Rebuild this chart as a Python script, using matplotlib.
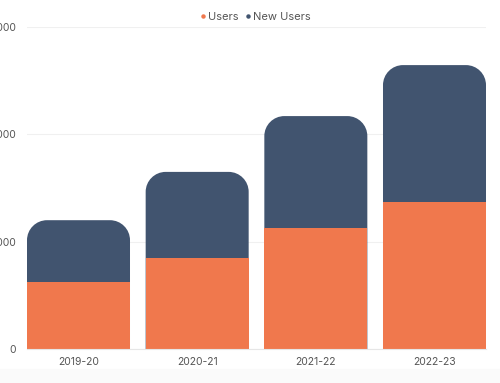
import matplotlib
matplotlib.use('Agg')
import matplotlib.pyplot as plt
from matplotlib.patches import PathPatch, Rectangle
from matplotlib.path import Path
from matplotlib.lines import Line2D

# data
years = ['2019-20', '2020-21', '2021-22', '2022-23']
users = [620, 850, 1130, 1365]
new_users = [580, 800, 1040, 1280]
y_ticks = [0, 1000, 2000, 3000]

orange = '#F0784D'
navy = '#41546F'
text_c = '#555555'

plt.rcParams['font.family'] = ['Inter', 'DejaVu Sans']

fig = plt.figure(figsize=(5, 3.83), dpi=100)
# faint grey band at the very bottom like the screenshot
fig.patches.append(Rectangle((0, 0), 1, 14 / 383, transform=fig.transFigure,
                             color='#fafafa', zorder=0))
ax = fig.add_axes([27 / 500, 1 - 349 / 383, 459 / 500, 322 / 383])
ax.set_facecolor('none')

x = range(len(years))
width = 0.868
totals = [u + n for u, n in zip(users, new_users)]

ax.set_xlim(-0.434, 3.434)
ax.set_ylim(0, 3000)


def top_rounded(bx, by, bw, bh, rx, ry):
    k = 0.5523
    verts = [(bx, by), (bx, by + bh - ry),
             (bx, by + bh - ry + k * ry), (bx + rx - k * rx, by + bh), (bx + rx, by + bh),
             (bx + bw - rx, by + bh),
             (bx + bw - rx + k * rx, by + bh), (bx + bw, by + bh - ry + k * ry), (bx + bw, by + bh - ry),
             (bx + bw, by), (bx, by)]
    codes = [Path.MOVETO, Path.LINETO,
             Path.CURVE4, Path.CURVE4, Path.CURVE4,
             Path.LINETO,
             Path.CURVE4, Path.CURVE4, Path.CURVE4,
             Path.LINETO, Path.CLOSEPOLY]
    return Path(verts, codes)


# navy bars (full height), swapped for top-rounded patches
navy_bars = ax.bar(x, totals, width=width, color=navy, zorder=2)
fig.canvas.draw()
xpx = (ax.get_xlim()[1] - ax.get_xlim()[0]) / ax.bbox.width
ypx = (ax.get_ylim()[1] - ax.get_ylim()[0]) / ax.bbox.height
radius_px = 20
for r in navy_bars:
    r.set_visible(False)
    path = top_rounded(r.get_x(), r.get_y(), r.get_width(), r.get_height(),
                       radius_px * xpx, radius_px * ypx)
    ax.add_patch(PathPatch(path, facecolor=navy, edgecolor='none', zorder=2))

ax.bar(x, users, width=width, color=orange, zorder=3)

ax.set_yticks(y_ticks)
ax.set_yticklabels([str(v) for v in y_ticks])
ax.set_xticks(list(x))
ax.set_xticklabels(years)
ax.tick_params(axis='both', length=0, labelsize=7.5, colors=text_c)
ax.tick_params(axis='y', pad=8)
ax.tick_params(axis='x', pad=6)
ax.grid(axis='y', color='#f0f0f0', linewidth=0.8, zorder=0)
for s in ['top', 'right', 'left']:
    ax.spines[s].set_visible(False)
ax.spines['bottom'].set_color('#e6e6e6')
ax.spines['bottom'].set_zorder(4)

handles = [Line2D([], [], marker='o', linestyle='none', color=orange, markersize=2.2),
           Line2D([], [], marker='o', linestyle='none', color=navy, markersize=2.2)]
leg = fig.legend(handles, ['Users', 'New Users'], loc='center',
                 bbox_to_anchor=(0.51, 1 - 17 / 383), ncol=2, frameon=False,
                 fontsize=8, handletextpad=0.1, columnspacing=0.6,
                 handlelength=0.6, borderpad=0)
for t in leg.get_texts():
    t.set_color(text_c)

plt.savefig('out.png', dpi=100)
